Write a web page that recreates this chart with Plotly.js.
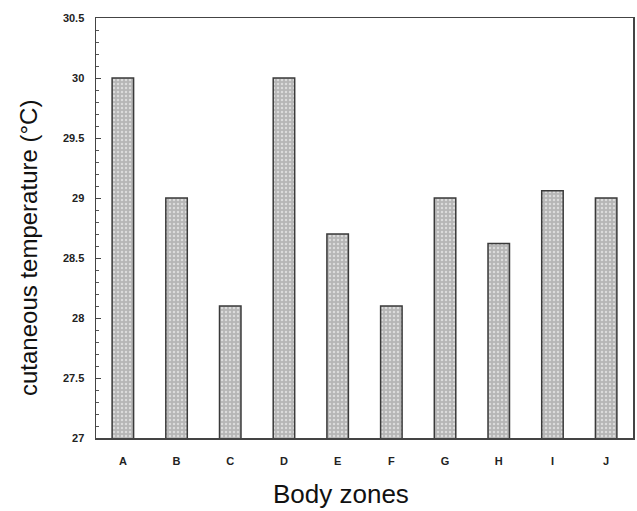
<!DOCTYPE html>
<html>
<head>
<meta charset="utf-8">
<script src="https://cdn.plot.ly/plotly-3.0.1.min.js"></script>
<style>html,body{margin:0;padding:0;background:#fff;}#chart{width:637px;height:511px;}</style>
</head>
<body>
<div id="chart"></div>
<script>
const zones = ["A","B","C","D","E","F","G","H","I","J"];
const temperatures = [30.0, 29.0, 28.1, 30.0, 28.7, 28.1, 29.0, 28.62, 29.06, 29.0];
const yTickValues = [27, 27.5, 28, 28.5, 29, 29.5, 30, 30.5];
const yTickLabels = ["27", "27.5", "28", "28.5", "29", "29.5", "30", "30.5"];
const xTitle = "Body zones";
const yTitle = "cutaneous temperature (°C)";

const trace = {
  type: "bar",
  x: zones,
  y: temperatures,
  width: 0.4,
  marker: {
    color: "#b8b8b8",
    line: {color: "#3a3a3a", width: 1.5},
    pattern: {shape: ".", fgcolor: "#dcdcdc", bgcolor: "#b6b6b6", size: 4, solidity: 0.3}
  },
  hoverinfo: "skip"
};

const layout = {
  width: 637, height: 511,
  margin: {l: 96, r: 4, t: 18, b: 73},
  paper_bgcolor: "#fff", plot_bgcolor: "#fff",
  showlegend: false,
  font: {family: "Arial, 'Liberation Sans', sans-serif", color: "#111"},
  xaxis: {
    type: "category",
    range: [-0.5, 9.5],
    showline: true, linecolor: "#444", linewidth: 1.5, mirror: true,
    ticks: "", showgrid: false, zeroline: false,
    tickfont: {size: 11, color: "#222", weight: "bold"},
    ticklabelstandoff: 12
  },
  yaxis: {
    range: [27, 30.5],
    tickvals: yTickValues, ticktext: yTickLabels,
    showline: true, linecolor: "#444", linewidth: 1.5, mirror: true,
    ticks: "inside", ticklen: 5, tickcolor: "#444",
    minor: {dtick: 0.1, ticks: "inside", ticklen: 3, tickcolor: "#555", showgrid: false},
    showgrid: false, zeroline: false,
    tickfont: {size: 11, color: "#222", weight: "bold"},
    ticklabelstandoff: 8
  },
  annotations: [
    {text: xTitle, xref: "paper", yref: "paper", x: (341 - 96) / 537, y: -(494 - 438) / 420,
     xanchor: "center", yanchor: "middle", showarrow: false,
     font: {size: 26, color: "#111"}},
    {text: yTitle, xref: "paper", yref: "paper", x: -(96 - 28) / 537, y: (438 - 248) / 420,
     xanchor: "center", yanchor: "middle", showarrow: false, textangle: -90,
     font: {size: 24, color: "#111"}}
  ]
};

Plotly.newPlot("chart", [trace], layout, {staticPlot: true, displayModeBar: false});
</script>
</body>
</html>
